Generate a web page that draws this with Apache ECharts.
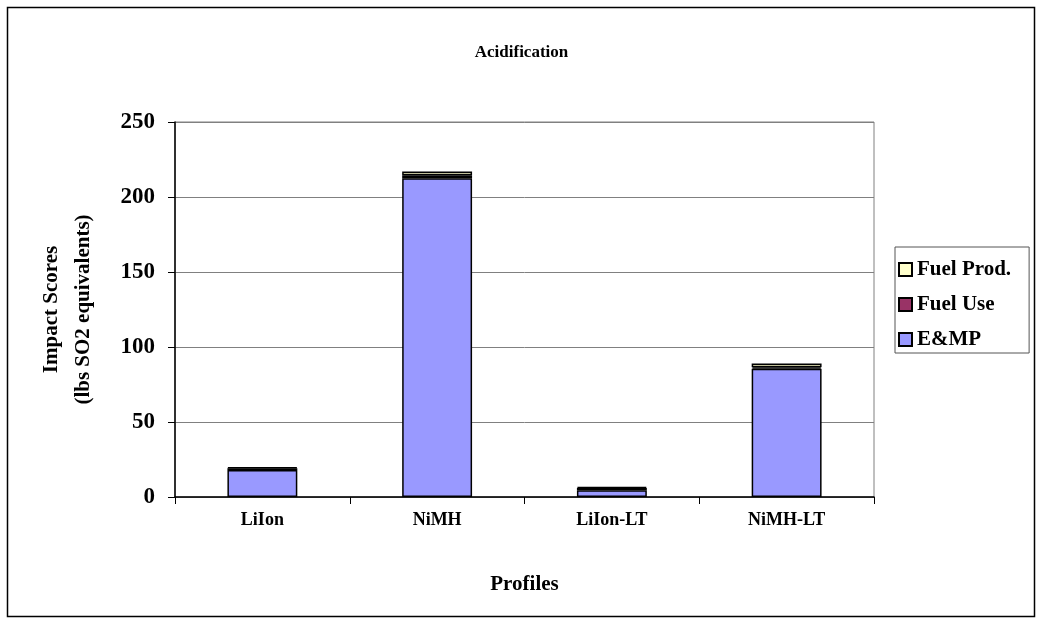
<!DOCTYPE html>
<html>
<head>
<meta charset="utf-8">
<script src="https://cdn.jsdelivr.net/npm/echarts@6/dist/echarts.min.js"></script>
<style>
  html, body { margin: 0; padding: 0; background: #fff; }
  #chart { width: 1043px; height: 624px; }
</style>
</head>
<body>
<div id="chart"></div>
<script>
// Acidification impact scores per battery profile (lbs SO2 equivalents)
const profiles = ['LiIon', 'NiMH', 'LiIon-LT', 'NiMH-LT'];
const emp      = [18, 212.5, 4.5, 85.5];
const fuelUse  = [1.2, 2.0, 1.5, 1.0];
const fuelProd = [0.6, 2.5, 0.7, 2.5];
const yTicks   = [0, 50, 100, 150, 200, 250];

const FONT = '"Liberation Serif", "Times New Roman", serif';
const chart = echarts.init(document.getElementById('chart'));

const barBase = {
  type: 'bar',
  stack: 'total',
  barWidth: '40%'
};
const border = { borderColor: '#000', borderWidth: 1.5 };

chart.setOption({
  animation: false,
  backgroundColor: '#fff',
  title: {
    text: 'Acidification',
    left: 'center',
    top: 39,
    textStyle: { fontFamily: FONT, fontWeight: 'bold', fontSize: 17, color: '#000' }
  },
  grid: { left: 175, right: 169, top: 122, bottom: 127, containLabel: false,
          show: true, borderColor: '#808080', borderWidth: 1 },
  legend: {
    orient: 'vertical',
    left: 895,
    top: 247,
    data: ['Fuel Prod.', 'Fuel Use', 'E&MP'],
    icon: 'rect',
    itemWidth: 13,
    itemHeight: 13,
    itemGap: 14,
    padding: [12, 18, 3, 3],
    borderColor: '#555',
    borderWidth: 1,
    backgroundColor: '#fff',
    textStyle: { fontFamily: FONT, fontWeight: 'bold', fontSize: 21, color: '#000' }
  },
  xAxis: {
    type: 'category',
    data: profiles,
    name: 'Profiles',
    nameLocation: 'middle',
    nameGap: 77,
    nameTextStyle: { fontFamily: FONT, fontWeight: 'bold', fontSize: 21, color: '#000' },
    axisLine: { lineStyle: { color: '#000', width: 1.5 } },
    axisTick: { show: true, length: 7, alignWithLabel: false, lineStyle: { color: '#000' } },
    axisLabel: { margin: 14, fontFamily: FONT, fontWeight: 'bold', fontSize: 18, color: '#000' }
  },
  yAxis: {
    type: 'value',
    min: yTicks[0],
    max: yTicks[yTicks.length - 1],
    interval: yTicks[1] - yTicks[0],
    name: 'Impact Scores\n(lbs SO2 equivalents)',
    nameLocation: 'middle',
    nameGap: 75,
    nameTextStyle: { fontFamily: FONT, fontWeight: 'bold', fontSize: 21, color: '#000', lineHeight: 32 },
    axisLine: { show: true, lineStyle: { color: '#000', width: 1.5 } },
    axisTick: { show: true, length: 7, lineStyle: { color: '#000' } },
    splitLine: { lineStyle: { color: '#808080', width: 1 } },
    axisLabel: { margin: 20, fontFamily: FONT, fontWeight: 'bold', fontSize: 23, color: '#000' }
  },
  series: [
    Object.assign({}, barBase, { name: 'E&MP', data: emp, itemStyle: Object.assign({ color: '#9999FF' }, border) }),
    Object.assign({}, barBase, { name: 'Fuel Use', data: fuelUse, itemStyle: Object.assign({ color: '#993366' }, border) }),
    Object.assign({}, barBase, { name: 'Fuel Prod.', data: fuelProd, itemStyle: Object.assign({ color: '#FFFFCC' }, border) })
  ],
  graphic: [{
    type: 'rect',
    shape: { x: 7.5, y: 7.5, width: 1027, height: 609 },
    style: { fill: null, stroke: '#000', lineWidth: 1.5 },
    silent: true,
    z: -1
  }]
});
</script>
</body>
</html>
